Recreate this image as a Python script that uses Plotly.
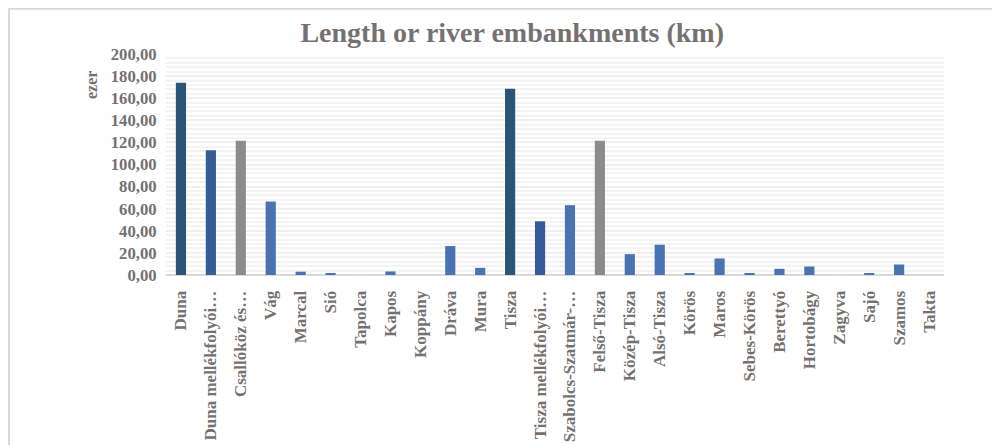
import plotly.graph_objects as go

categories = ["Duna", "Duna mellékfolyói…", "Csallóköz és…", "Vág", "Marcal", "Sió",
              "Tapolca", "Kapos", "Koppány", "Dráva", "Mura", "Tisza",
              "Tisza mellékfolyói…", "Szabolcs-Szatmár-…", "Felső-Tisza", "Közép-Tisza",
              "Alsó-Tisza", "Körös", "Maros", "Sebes-Körös", "Berettyó", "Hortobágy",
              "Zagyva", "Sajó", "Szamos", "Takta"]
values = [174.0, 113.0, 121.5, 66.5, 3.0, 1.7,
          0.8, 3.2, 0.0, 26.2, 6.5, 168.5,
          48.6, 63.2, 121.5, 18.9,
          27.4, 1.7, 15.0, 1.8, 5.6, 7.7,
          0.7, 1.3, 9.5, 0.0]
bar_colors = ["#2a5577", "#365c97", "#8c8c8c", "#4a73b1", "#4a73b1", "#4a73b1",
              "#d6deea", "#4a73b1", "#4a73b1", "#4a73b1", "#4a73b1", "#2a5577",
              "#365c97", "#4a73b1", "#8c8c8c", "#4a73b1",
              "#4a73b1", "#4a73b1", "#4a73b1", "#4a73b1", "#4a73b1", "#4a73b1",
              "#d6deea", "#4a73b1", "#4a73b1", "#4a73b1"]
y_ticks = [0, 20, 40, 60, 80, 100, 120, 140, 160, 180, 200]

TXT = "#757171"
FONT = "Liberation Serif"

fig = go.Figure(go.Bar(x=categories, y=values, marker=dict(color=bar_colors, line_width=0),
                       hoverinfo="x+y"))

fig.update_layout(
    width=992, height=437,
    margin=dict(l=158, r=56, t=46, b=170),
    paper_bgcolor="white", plot_bgcolor="white",
    bargap=0.66,
    separators=",.",
    showlegend=False,
    title=dict(text="<b>Length or river embankments (km)</b>", x=0.445, xref="paper",
               xanchor="center", y=0.945, yanchor="middle",
               font=dict(family=FONT, size=28, color=TXT)),
    font=dict(family=FONT, color=TXT),
)
fig.update_xaxes(
    type="category", tickangle=-90, showgrid=False,
    tickfont=dict(family=FONT, size=17, color=TXT, weight="bold"),
    ticks="outside", ticklen=8, tickcolor="rgba(0,0,0,0)",
    showline=False, zeroline=False, automargin=False,
)
fig.update_yaxes(
    range=[0, 200], tickvals=y_ticks, tickformat=".2f",
    tickfont=dict(family=FONT, size=16.7, color=TXT, weight="bold"),
    ticks="outside", ticklen=5, tickcolor="rgba(0,0,0,0)",
    showgrid=True, gridcolor="#f0f0f0", gridwidth=1.5,
    minor=dict(dtick=4, showgrid=True, gridcolor="#f3f3f3", gridwidth=1.5),
    zeroline=True, zerolinecolor="#d9d9d9", zerolinewidth=2,
    automargin=False,
)
fig.add_annotation(text="<b>ezer</b>", xref="paper", yref="paper",
                   x=-0.095, y=0.86, textangle=-90, showarrow=False,
                   xanchor="center", yanchor="middle",
                   font=dict(family=FONT, size=16, color=TXT))
fig.add_shape(type="rect", xref="paper", yref="paper",
              x0=-0.2018, x1=1.3, y0=-1.0, y1=1.2045,
              line=dict(color="#d9d9d9", width=2), layer="below")

fig.write_html("out.html")
